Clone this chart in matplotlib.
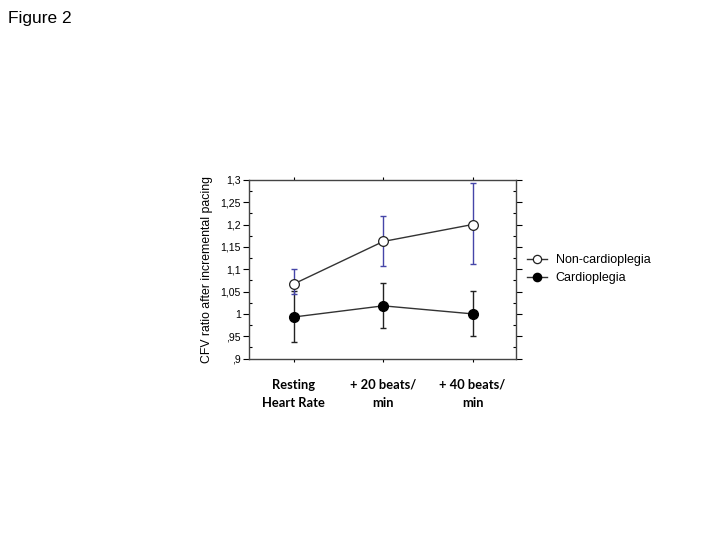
import matplotlib.pyplot as plt
from matplotlib.ticker import FixedLocator

# data
categories = ['Resting\nHeart Rate', '+ 20 beats/\nmin', '+ 40 beats/\nmin']
non_mean = [1.067, 1.162, 1.200]
non_low = [1.045, 1.108, 1.112]
non_high = [1.100, 1.219, 1.292]
card_mean = [0.993, 1.018, 1.000]
card_low = [0.938, 0.968, 0.951]
card_high = [1.052, 1.068, 1.052]
y_ticks = [0.9, 0.95, 1.0, 1.05, 1.1, 1.15, 1.2, 1.25, 1.3]
y_labels = [',9', ',95', '1', '1,05', '1,1', '1,15', '1,2', '1,25', '1,3']

fig = plt.figure(figsize=(7.2, 5.4), dpi=100)
fig.text(0.011, 0.965, 'Figure 2', fontsize=12.5, family='Liberation Sans', va='center')

ax = fig.add_axes([0.346, 0.336, 0.370, 0.331])
x = list(range(len(categories)))

non_err = [[m - l for m, l in zip(non_mean, non_low)], [h - m for m, h in zip(non_mean, non_high)]]
card_err = [[m - l for m, l in zip(card_mean, card_low)], [h - m for m, h in zip(card_mean, card_high)]]

ax.errorbar(x, card_mean, yerr=card_err, fmt='none', ecolor='#222222', elinewidth=1.0, capsize=2.5, capthick=1.0, zorder=2)
ax.errorbar(x, non_mean, yerr=non_err, fmt='none', ecolor='#4545a8', elinewidth=1.0, capsize=2.5, capthick=1.0, zorder=2)
ax.plot(x, non_mean, '-o', color='#333333', lw=1.0, ms=7, mfc='white', mec='#222222', mew=0.9,
        label='Non-cardioplegia', zorder=3)
ax.plot(x, card_mean, '-o', color='#333333', lw=1.0, ms=7, mfc='black', mec='black',
        label='Cardioplegia', zorder=3)

ax.set_xlim(-0.5, 2.48)
ax.set_ylim(0.9, 1.3)
ax.set_yticks(y_ticks)
ax.set_yticklabels(y_labels, fontsize=7.6, family='Liberation Sans')
ax.yaxis.set_minor_locator(FixedLocator([0.925 + 0.05 * i for i in range(8)]))
ax.tick_params(axis='y', which='major', direction='out', length=4, width=0.8, left=True, right=True, pad=2)
ax.tick_params(axis='y', which='minor', direction='in', length=2.5, width=0.8, left=True, right=True)
ax.set_xticks(x)
ax.set_xticklabels(categories, fontsize=9.3, family='Lato', fontweight='bold', linespacing=1.6)
ax.tick_params(axis='x', direction='out', length=2.5, width=0.8, top=True, bottom=True, pad=12)
for s in ax.spines.values():
    s.set_linewidth(1.0)
    s.set_color('#444444')

ax.set_ylabel('CFV ratio after incremental pacing', fontsize=8.8, family='Liberation Sans', labelpad=5)

ax.legend(loc='center left', bbox_to_anchor=(1.0, 0.50), frameon=False,
          prop={'family': 'Liberation Sans', 'size': 9}, handlelength=1.6, handletextpad=0.7,
          labelspacing=0.45, markerscale=0.85)

fig.savefig('out.png', dpi=100)
